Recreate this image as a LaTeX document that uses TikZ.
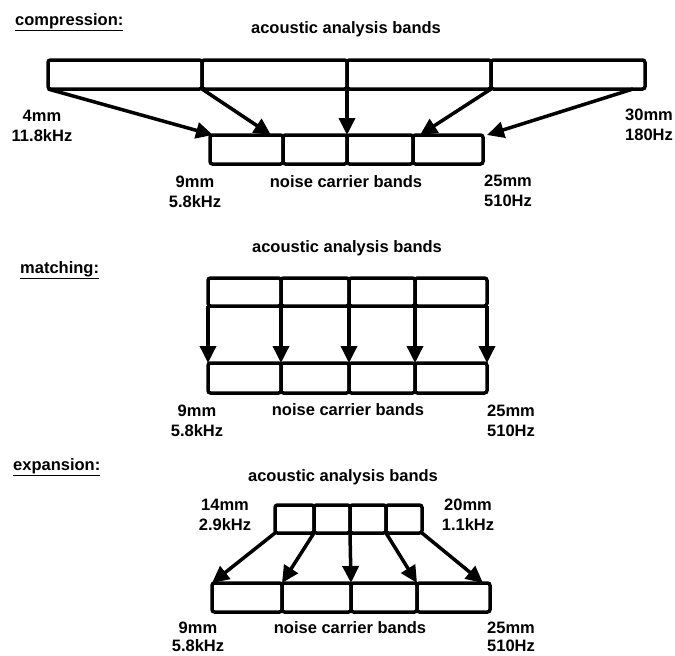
\documentclass[tikz,border=0pt]{standalone}
\usepackage{fontspec}
\setmainfont{Liberation Sans}
\usetikzlibrary{arrows.meta}
\tikzset{
  band/.style={draw, line width=3.5pt, rounded corners=2.5pt, inner sep=0pt, outer sep=0pt},
  txt/.style={font=\bfseries\fontsize{16.5}{20}\selectfont, inner sep=0pt, align=center},
  map/.style={line width=3.5pt, -{Triangle[length=17pt,width=16pt]}},
}
\begin{document}
\begin{tikzpicture}[x=1pt,y=-1pt]
    \useasboundingbox (0,0) rectangle (675,656);
    \node[txt, anchor=west] (comphead) at (15,22) {\underline{compression:}};
    \node[txt] (compup) at (346,29) {acoustic analysis bands};
    \node[band, minimum width=154pt, minimum height=29pt] (ca1) at (125,74.5) {};
    \node[band, minimum width=145pt, minimum height=29pt] (ca2) at (274.5,74.5) {};
    \node[band, minimum width=144pt, minimum height=29pt] (ca3) at (419,74.5) {};
    \node[band, minimum width=154pt, minimum height=29pt] (ca4) at (568,74.5) {};
    \node[band, minimum width=73pt, minimum height=29pt] (cn1) at (246.5,149.5) {};
    \node[band, minimum width=64pt, minimum height=29pt] (cn2) at (315,149.5) {};
    \node[band, minimum width=66pt, minimum height=29pt] (cn3) at (380,149.5) {};
    \node[band, minimum width=70pt, minimum height=29pt] (cn4) at (448,149.5) {};
    \draw[map] (ca1.south west) -- ([xshift=3pt]cn1.north west);
    \draw[map] (ca2.south west) -- ([xshift=-12pt]cn2.north west);
    \draw[map] (ca3.south west) -- (cn3.north west);
    \draw[map] (ca4.south west) -- ([xshift=7pt]cn4.north west);
    \draw[map] ([xshift=-12pt]ca4.south east) -- ([xshift=4pt]cn4.north east);
    \node[txt] (compl1) at (42,126) {4mm\\11.8kHz};
    \node[txt] (compr1) at (649,125) {30mm\\180Hz};
    \node[txt] (compl2) at (195,192) {9mm\\5.8kHz};
    \node[txt] (complow) at (346,182) {noise carrier bands};
    \node[txt] (compr2) at (508,191) {25mm\\510Hz};

    \node[txt, anchor=west] (matchhead) at (20,270) {\underline{matching:}};
    \node[txt] (matchup) at (347,248) {acoustic analysis bands};
    \node[band, minimum width=73pt, minimum height=28pt] (ma1) at (244.5,292) {};
    \node[band, minimum width=68pt, minimum height=28pt] (ma2) at (315,292) {};
    \node[band, minimum width=66pt, minimum height=28pt] (ma3) at (382,292) {};
    \node[band, minimum width=72pt, minimum height=28pt] (ma4) at (451,292) {};
    \node[band, minimum width=73pt, minimum height=30pt] (mn1) at (244.5,378) {};
    \node[band, minimum width=68pt, minimum height=30pt] (mn2) at (315,378) {};
    \node[band, minimum width=66pt, minimum height=30pt] (mn3) at (382,378) {};
    \node[band, minimum width=72pt, minimum height=30pt] (mn4) at (451,378) {};
    \draw[map] (ma1.south west) -- (mn1.north west);
    \draw[map] (ma2.south west) -- (mn2.north west);
    \draw[map] (ma3.south west) -- (mn3.north west);
    \draw[map] (ma4.south west) -- (mn4.north west);
    \draw[map] (ma4.south east) -- (mn4.north east);
    \node[txt] (matchl) at (197,421) {9mm\\5.8kHz};
    \node[txt] (matchlow) at (348,410) {noise carrier bands};
    \node[txt] (matchr) at (511,421) {25mm\\510Hz};

    \node[txt, anchor=west] (exphead) at (13,467) {\underline{expansion:}};
    \node[txt] (expup) at (343,477) {acoustic analysis bands};
    \node[band, minimum width=39pt, minimum height=28pt] (ea1) at (294.5,519) {};
    \node[band, minimum width=36pt, minimum height=28pt] (ea2) at (332,519) {};
    \node[band, minimum width=36pt, minimum height=28pt] (ea3) at (368,519) {};
    \node[band, minimum width=36pt, minimum height=28pt] (ea4) at (404,519) {};
    \node[band, minimum width=70pt, minimum height=29pt] (en1) at (247,597.5) {};
    \node[band, minimum width=69pt, minimum height=29pt] (en2) at (316.5,597.5) {};
    \node[band, minimum width=66pt, minimum height=29pt] (en3) at (384,597.5) {};
    \node[band, minimum width=73pt, minimum height=29pt] (en4) at (453.5,597.5) {};
    \draw[map] (ea1.south west) -- (en1.north west);
    \draw[map] (ea2.south west) -- (en2.north west);
    \draw[map] (ea3.south west) -- (en3.north west);
    \draw[map] (ea4.south west) -- (en4.north west);
    \draw[map] (ea4.south east) -- ([xshift=-7pt]en4.north east);
    \node[txt] (expl1) at (225,515) {14mm\\2.9kHz};
    \node[txt] (expr1) at (468,515) {20mm\\1.1kHz};
    \node[txt] (expl2) at (198,637) {9mm\\[-2pt]5.8kHz};
    \node[txt] (explow) at (350,628) {noise carrier bands};
    \node[txt] (expr2) at (511,637) {25mm\\[-2pt]510Hz};
\end{tikzpicture}
\end{document}
